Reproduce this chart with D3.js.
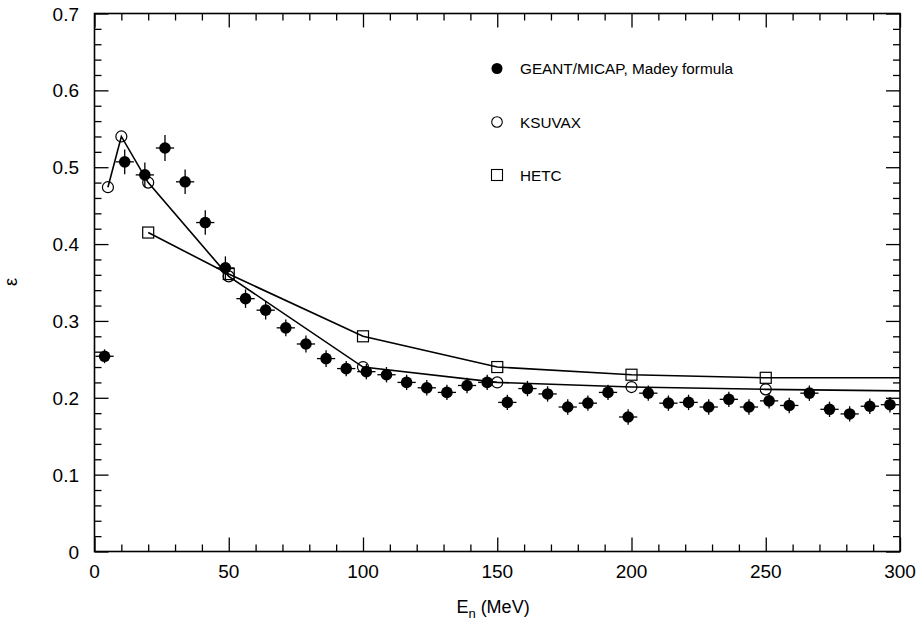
<!DOCTYPE html>
<html>
<head>
<meta charset="utf-8">
<script src="https://cdn.jsdelivr.net/npm/d3@7"></script>
<style>
  html, body { margin: 0; padding: 0; background: #fff; }
  svg { display: block; font-family: "Liberation Sans", Arial, Helvetica, sans-serif; }
</style>
</head>
<body>
<svg id="chart" width="921" height="629"></svg>
<script>
// GEANT/MICAP (Madey formula): bin centres every 7.5 MeV
const geantE = [3.75, 11.25, 18.75, 26.25, 33.75, 41.25, 48.75, 56.25, 63.75, 71.25,
  78.75, 86.25, 93.75, 101.25, 108.75, 116.25, 123.75, 131.25, 138.75, 146.25,
  153.75, 161.25, 168.75, 176.25, 183.75, 191.25, 198.75, 206.25, 213.75, 221.25,
  228.75, 236.25, 243.75, 251.25, 258.75, 266.25, 273.75, 281.25, 288.75, 296.25];
const geantEff = [0.254, 0.507, 0.490, 0.525, 0.481, 0.428, 0.369, 0.329, 0.314, 0.291,
  0.270, 0.251, 0.238, 0.234, 0.230, 0.220, 0.213, 0.207, 0.216, 0.220,
  0.194, 0.212, 0.205, 0.188, 0.193, 0.207, 0.175, 0.206, 0.193, 0.194,
  0.188, 0.198, 0.188, 0.196, 0.190, 0.206, 0.185, 0.179, 0.189, 0.191];
const geantErr = [0.009, 0.016, 0.016, 0.017, 0.016, 0.016, 0.015, 0.012, 0.012, 0.011,
  0.011, 0.011, 0.010, 0.010, 0.010, 0.010, 0.010, 0.010, 0.010, 0.010,
  0.010, 0.010, 0.010, 0.010, 0.010, 0.010, 0.010, 0.010, 0.010, 0.010,
  0.010, 0.010, 0.010, 0.010, 0.010, 0.010, 0.010, 0.010, 0.010, 0.010];
const geantBinHalf = 3.4;

// KSUVAX
const ksuE = [5, 10, 20, 50, 100, 150, 200, 250];
const ksuEff = [0.474, 0.540, 0.480, 0.358, 0.240, 0.220, 0.214, 0.211];
const ksuEndEff = 0.209;   // curve continues to the 300 MeV edge

// HETC
const hetcE = [20, 50, 100, 150, 200, 250];
const hetcEff = [0.415, 0.361, 0.280, 0.240, 0.230, 0.226];
const hetcEndEff = 0.226;

const xTicks = [0, 50, 100, 150, 200, 250, 300];
const xTickLabels = ["0", "50", "100", "150", "200", "250", "300"];
const yTicks = [0, 0.1, 0.2, 0.3, 0.4, 0.5, 0.6, 0.7];
const yTickLabels = ["0", "0.1", "0.2", "0.3", "0.4", "0.5", "0.6", "0.7"];

const legendLabels = ["GEANT/MICAP, Madey formula", "KSUVAX", "HETC"];

const svg = d3.select("#chart");
const plotL = 94.5, plotR = 900, plotT = 13.5, plotB = 551.5;
const x = d3.scaleLinear().domain([0, 300]).range([plotL, plotR]);
const y = d3.scaleLinear().domain([0, 0.7]).range([plotB, plotT]);

const minorX = d3.range(0, 301, 10).filter(v => v % 50 !== 0);
const minorY = d3.range(0, 36, 1).map(i => +(i * 0.02).toFixed(2)).filter(v => Math.round(v * 100) % 10 !== 0);

function tickAxis(axisFn, scale, vals, size, tr) {
  const g = svg.append("g").attr("transform", tr)
    .call(axisFn(scale).tickValues(vals).tickSizeInner(-size).tickSizeOuter(0).tickFormat(""));
  g.select(".domain").remove();
  g.selectAll(".tick line").attr("stroke", "#000").attr("stroke-width", 1.3);
}
// inward ticks on all four sides
tickAxis(d3.axisBottom, x, xTicks, 14, `translate(0,${plotB})`);
tickAxis(d3.axisBottom, x, minorX, 7, `translate(0,${plotB})`);
tickAxis(d3.axisTop, x, xTicks, 14, `translate(0,${plotT})`);
tickAxis(d3.axisTop, x, minorX, 7, `translate(0,${plotT})`);
tickAxis(d3.axisLeft, y, yTicks, 14, `translate(${plotL},0)`);
tickAxis(d3.axisLeft, y, minorY, 7, `translate(${plotL},0)`);
tickAxis(d3.axisRight, y, yTicks, 14, `translate(${plotR},0)`);
tickAxis(d3.axisRight, y, minorY, 7, `translate(${plotR},0)`);

// frame
svg.append("rect").attr("x", plotL).attr("y", plotT)
  .attr("width", plotR - plotL).attr("height", plotB - plotT)
  .attr("fill", "none").attr("stroke", "#000").attr("stroke-width", 1.6);

// tick labels
svg.append("g").selectAll("text").data(xTicks).join("text")
  .attr("x", d => x(d)).attr("y", 578)
  .attr("text-anchor", "middle").attr("font-size", 19)
  .text((d, i) => xTickLabels[i]);
svg.append("g").selectAll("text").data(yTicks).join("text")
  .attr("x", 79).attr("y", d => y(d) + 7)
  .attr("text-anchor", "end").attr("font-size", 19)
  .text((d, i) => yTickLabels[i]);

// axis titles
const xt = svg.append("text").attr("x", 493).attr("y", 613)
  .attr("text-anchor", "middle").attr("font-size", 18);
xt.append("tspan").text("E");
xt.append("tspan").attr("font-size", 13).attr("dy", 5).text("n");
xt.append("tspan").attr("dy", -5).text(" (MeV)");

svg.append("text").attr("transform", "translate(17,282) rotate(-90)")
  .attr("text-anchor", "middle").attr("font-size", 18).text("ε");

// model curves
const line = d3.line().x(d => x(d[0])).y(d => y(d[1]));
const ksuLine = ksuE.map((e, i) => [e, ksuEff[i]]).concat([[300, ksuEndEff]]);
const hetcLine = hetcE.map((e, i) => [e, hetcEff[i]]).concat([[300, hetcEndEff]]);
svg.append("path").attr("d", line(ksuLine)).attr("fill", "none")
  .attr("stroke", "#000").attr("stroke-width", 1.6);
svg.append("path").attr("d", line(hetcLine)).attr("fill", "none")
  .attr("stroke", "#000").attr("stroke-width", 1.6);

// open markers
svg.append("g").selectAll("circle").data(ksuE).join("circle")
  .attr("cx", d => x(d)).attr("cy", (d, i) => y(ksuEff[i])).attr("r", 5.5)
  .attr("fill", "none").attr("stroke", "#000").attr("stroke-width", 1.2);
svg.append("g").selectAll("rect").data(hetcE).join("rect")
  .attr("x", d => x(d) - 5.5).attr("y", (d, i) => y(hetcEff[i]) - 5.5)
  .attr("width", 11).attr("height", 11)
  .attr("fill", "none").attr("stroke", "#000").attr("stroke-width", 1.2);

// GEANT points with error bars
const gp = svg.append("g");
geantE.forEach((e, i) => {
  const v = geantEff[i], err = geantErr[i];
  gp.append("line").attr("x1", x(e - geantBinHalf)).attr("x2", x(e + geantBinHalf))
    .attr("y1", y(v)).attr("y2", y(v)).attr("stroke", "#000").attr("stroke-width", 1.3);
  gp.append("line").attr("x1", x(e)).attr("x2", x(e))
    .attr("y1", y(v - err)).attr("y2", y(v + err)).attr("stroke", "#000").attr("stroke-width", 1.3);
  gp.append("circle").attr("cx", x(e)).attr("cy", y(v)).attr("r", 5.8).attr("fill", "#000");
});

// legend
const lg = svg.append("g").attr("font-size", 15.3);
lg.append("circle").attr("cx", 497).attr("cy", 68.5).attr("r", 5.5).attr("fill", "#000");
lg.append("circle").attr("cx", 497).attr("cy", 122).attr("r", 5.3)
  .attr("fill", "none").attr("stroke", "#000").attr("stroke-width", 1.1);
lg.append("rect").attr("x", 491.5).attr("y", 169.5).attr("width", 11).attr("height", 11)
  .attr("fill", "none").attr("stroke", "#000").attr("stroke-width", 1.1);
lg.selectAll("text").data(legendLabels).join("text")
  .attr("x", 520).attr("y", (d, i) => [74, 127.5, 180.5][i]).text(d => d);
</script>
</body>
</html>
